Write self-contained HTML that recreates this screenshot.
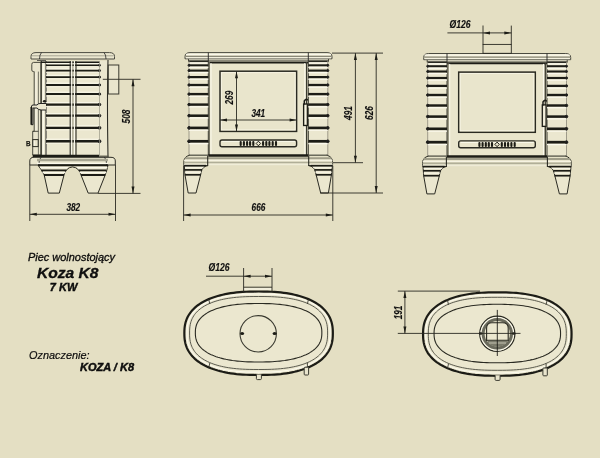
<!DOCTYPE html>
<html><head><meta charset="utf-8">
<style>
html,body{margin:0;padding:0;background:#e4dfc3;}
body{width:600px;height:458px;overflow:hidden;position:relative;}
svg{position:absolute;left:0;top:0;will-change:transform;}
.t{font-family:"Liberation Sans",sans-serif;font-style:italic;fill:#111;}
</style></head><body>
<svg width="600" height="458" viewBox="0 0 600 458">
<defs>

<g id="stove" fill="none" stroke="#222" stroke-width="1">
  <!-- cap -->
  <rect x="188.5" y="58" width="140" height="3.5" fill="#ece8d2" stroke="none"/>
  <line x1="188.5" y1="58.5" x2="188.5" y2="61.5" stroke="#3a3a30" stroke-width="0.9"/>
  <line x1="328.5" y1="58.5" x2="328.5" y2="61.5" stroke="#3a3a30" stroke-width="0.9"/>
  <path d="M185,58.8 L185,56.6 Q185,52.6 190,52.6 L327,52.6 Q332,52.6 332,56.6 L332,58.8 Z" fill="#ebe7cf" stroke="#4a4a40" stroke-width="1"/>
  <line x1="186" y1="54.3" x2="331" y2="54.3" stroke="#fbf9ec" stroke-width="1.2"/>
  <line x1="185.5" y1="56.3" x2="331.5" y2="56.3" stroke="#8a8878" stroke-width="1.2"/>
  <line x1="186" y1="57.8" x2="331" y2="57.8" stroke="#f8f6e6" stroke-width="0.9"/>
  <line x1="208.3" y1="52.6" x2="208.3" y2="61" stroke-width="0.9"/>
  <line x1="308.3" y1="52.6" x2="308.3" y2="61" stroke-width="0.9"/>
  <line x1="188.5" y1="61.3" x2="328.5" y2="61.3" stroke="#2a2a22" stroke-width="1.4"/>
  <!-- door -->
  <rect x="208.5" y="61" width="99.5" height="94.2" fill="#e9e5cc" stroke="none"/>
  <line x1="208.3" y1="62.4" x2="308.3" y2="62.4" stroke="#1c1c16" stroke-width="2"/>
  <line x1="209.3" y1="62" x2="209.3" y2="155" stroke="#6a6858" stroke-width="1.2"/>
  <line x1="211" y1="63" x2="211" y2="155" stroke="#fbf9ec" stroke-width="1"/>
  <line x1="304.8" y1="63" x2="304.8" y2="155" stroke="#fbf9ec" stroke-width="1"/>
  <line x1="306.6" y1="62" x2="306.6" y2="155" stroke="#3a3a30" stroke-width="1.3"/>
  <!-- window -->
  <rect x="220" y="71.2" width="76.6" height="60.2" stroke="#2a2a22" stroke-width="1.5"/>
  <rect x="221.5" y="72.7" width="73.6" height="57.2" stroke="#f8f6e6" stroke-width="0.8"/>
  <!-- vent -->
  <rect x="220" y="140" width="76.6" height="6.8" rx="2" stroke="#2a2a22" stroke-width="1.4"/>
  <line x1="222" y1="141.6" x2="295" y2="141.6" stroke="#fbf9ec" stroke-width="0.9"/>
  <g fill="#1c1c16" stroke="none">
    <rect x="239.65" y="141" width="2.1" height="5" rx="1" fill="#1c1c16"/><rect x="242.85" y="141" width="2.1" height="5" rx="1" fill="#1c1c16"/><rect x="246.05" y="141" width="2.1" height="5" rx="1" fill="#1c1c16"/><rect x="249.05" y="141" width="2.1" height="5" rx="1" fill="#1c1c16"/><rect x="252.25" y="141" width="2.1" height="5" rx="1" fill="#1c1c16"/><rect x="262.05" y="141" width="2.1" height="5" rx="1" fill="#1c1c16"/><rect x="265.25" y="141" width="2.1" height="5" rx="1" fill="#1c1c16"/><rect x="268.35" y="141" width="2.1" height="5" rx="1" fill="#1c1c16"/><rect x="271.65" y="141" width="2.1" height="5" rx="1" fill="#1c1c16"/><rect x="274.95" y="141" width="2.1" height="5" rx="1" fill="#1c1c16"/>
    <path d="M256.2,143.5 L258.4,141.2 L260.6,143.5 L258.4,145.8 Z" fill="none" stroke="#1c1c16" stroke-width="1"/>
  </g>
  <!-- handle -->
  <rect x="303.6" y="104" width="3.8" height="21.5" fill="#e9e5cd" stroke="#1c1c16" stroke-width="1.3"/>
  <line x1="305.5" y1="105" x2="305.5" y2="124" stroke="#fbf9ec" stroke-width="0.8"/>
  <path d="M304.3,104.5 L304.3,101 Q306.5,97.8 308.5,100.5 L310.3,103.8" stroke="#1c1c16" stroke-width="1.5"/>
  <!-- fins -->
  <rect x="189" y="61" width="19.30000000000001" height="94.2" fill="#ebe7cf" stroke="none"/>
<line x1="189" y1="61.4" x2="208.3" y2="61.4" stroke="#2a2a22" stroke-width="1.5"/>
<line x1="189" y1="63" x2="208.3" y2="63" stroke="#fbf9ec" stroke-width="1.2"/>
<line x1="208.3" y1="61" x2="208.3" y2="155" stroke="#3a3a30" stroke-width="1"/>
<line x1="189" y1="61" x2="189" y2="155" stroke="#8a8878" stroke-width="0.8"/>
<line x1="189" y1="67.30" x2="208.3" y2="67.30" stroke="#fbf9ec" stroke-width="1.3"/>
<line x1="189" y1="65.3" x2="208.3" y2="65.3" stroke="#1c1c16" stroke-width="2.00"/>
<ellipse cx="189" cy="65.3" rx="1.00" ry="1.00" fill="#1c1c16"/>
<line x1="189" y1="72.64" x2="208.3" y2="72.64" stroke="#fbf9ec" stroke-width="1.3"/>
<line x1="189" y1="70.6" x2="208.3" y2="70.6" stroke="#1c1c16" stroke-width="2.09"/>
<ellipse cx="189" cy="70.6" rx="1.04" ry="1.04" fill="#1c1c16"/>
<line x1="189" y1="79.19" x2="208.3" y2="79.19" stroke="#fbf9ec" stroke-width="1.3"/>
<line x1="189" y1="77.1" x2="208.3" y2="77.1" stroke="#1c1c16" stroke-width="2.18"/>
<ellipse cx="189" cy="77.1" rx="1.09" ry="1.09" fill="#1c1c16"/>
<line x1="189" y1="87.14" x2="208.3" y2="87.14" stroke="#fbf9ec" stroke-width="1.3"/>
<line x1="189" y1="85.0" x2="208.3" y2="85.0" stroke="#1c1c16" stroke-width="2.27"/>
<ellipse cx="189" cy="85.0" rx="1.14" ry="1.14" fill="#1c1c16"/>
<line x1="189" y1="96.28" x2="208.3" y2="96.28" stroke="#fbf9ec" stroke-width="1.3"/>
<line x1="189" y1="94.1" x2="208.3" y2="94.1" stroke="#1c1c16" stroke-width="2.36"/>
<ellipse cx="189" cy="94.1" rx="1.18" ry="1.18" fill="#1c1c16"/>
<line x1="189" y1="106.82" x2="208.3" y2="106.82" stroke="#fbf9ec" stroke-width="1.3"/>
<line x1="189" y1="104.6" x2="208.3" y2="104.6" stroke="#1c1c16" stroke-width="2.45"/>
<ellipse cx="189" cy="104.6" rx="1.23" ry="1.23" fill="#1c1c16"/>
<line x1="189" y1="117.97" x2="208.3" y2="117.97" stroke="#fbf9ec" stroke-width="1.3"/>
<line x1="189" y1="115.7" x2="208.3" y2="115.7" stroke="#1c1c16" stroke-width="2.54"/>
<ellipse cx="189" cy="115.7" rx="1.27" ry="1.27" fill="#1c1c16"/>
<line x1="189" y1="130.22" x2="208.3" y2="130.22" stroke="#fbf9ec" stroke-width="1.3"/>
<line x1="189" y1="127.9" x2="208.3" y2="127.9" stroke="#1c1c16" stroke-width="2.63"/>
<ellipse cx="189" cy="127.9" rx="1.31" ry="1.31" fill="#1c1c16"/>
<line x1="189" y1="143.66" x2="208.3" y2="143.66" stroke="#fbf9ec" stroke-width="1.3"/>
<line x1="189" y1="141.3" x2="208.3" y2="141.3" stroke="#1c1c16" stroke-width="2.72"/>
<ellipse cx="189" cy="141.3" rx="1.36" ry="1.36" fill="#1c1c16"/>
  <rect x="308.3" y="61" width="19.5" height="94.2" fill="#ebe7cf" stroke="none"/>
<line x1="308.3" y1="61.4" x2="327.8" y2="61.4" stroke="#2a2a22" stroke-width="1.5"/>
<line x1="308.3" y1="63" x2="327.8" y2="63" stroke="#fbf9ec" stroke-width="1.2"/>
<line x1="308.3" y1="61" x2="308.3" y2="155" stroke="#3a3a30" stroke-width="1"/>
<line x1="327.8" y1="61" x2="327.8" y2="155" stroke="#8a8878" stroke-width="0.8"/>
<line x1="308.3" y1="67.30" x2="327.8" y2="67.30" stroke="#fbf9ec" stroke-width="1.3"/>
<line x1="308.3" y1="65.3" x2="327.8" y2="65.3" stroke="#1c1c16" stroke-width="2.00"/>
<ellipse cx="327.8" cy="65.3" rx="1.00" ry="1.00" fill="#1c1c16"/>
<line x1="308.3" y1="72.64" x2="327.8" y2="72.64" stroke="#fbf9ec" stroke-width="1.3"/>
<line x1="308.3" y1="70.6" x2="327.8" y2="70.6" stroke="#1c1c16" stroke-width="2.09"/>
<ellipse cx="327.8" cy="70.6" rx="1.04" ry="1.04" fill="#1c1c16"/>
<line x1="308.3" y1="79.19" x2="327.8" y2="79.19" stroke="#fbf9ec" stroke-width="1.3"/>
<line x1="308.3" y1="77.1" x2="327.8" y2="77.1" stroke="#1c1c16" stroke-width="2.18"/>
<ellipse cx="327.8" cy="77.1" rx="1.09" ry="1.09" fill="#1c1c16"/>
<line x1="308.3" y1="87.14" x2="327.8" y2="87.14" stroke="#fbf9ec" stroke-width="1.3"/>
<line x1="308.3" y1="85.0" x2="327.8" y2="85.0" stroke="#1c1c16" stroke-width="2.27"/>
<ellipse cx="327.8" cy="85.0" rx="1.14" ry="1.14" fill="#1c1c16"/>
<line x1="308.3" y1="96.28" x2="327.8" y2="96.28" stroke="#fbf9ec" stroke-width="1.3"/>
<line x1="308.3" y1="94.1" x2="327.8" y2="94.1" stroke="#1c1c16" stroke-width="2.36"/>
<ellipse cx="327.8" cy="94.1" rx="1.18" ry="1.18" fill="#1c1c16"/>
<line x1="308.3" y1="106.82" x2="327.8" y2="106.82" stroke="#fbf9ec" stroke-width="1.3"/>
<line x1="308.3" y1="104.6" x2="327.8" y2="104.6" stroke="#1c1c16" stroke-width="2.45"/>
<ellipse cx="327.8" cy="104.6" rx="1.23" ry="1.23" fill="#1c1c16"/>
<line x1="308.3" y1="117.97" x2="327.8" y2="117.97" stroke="#fbf9ec" stroke-width="1.3"/>
<line x1="308.3" y1="115.7" x2="327.8" y2="115.7" stroke="#1c1c16" stroke-width="2.54"/>
<ellipse cx="327.8" cy="115.7" rx="1.27" ry="1.27" fill="#1c1c16"/>
<line x1="308.3" y1="130.22" x2="327.8" y2="130.22" stroke="#fbf9ec" stroke-width="1.3"/>
<line x1="308.3" y1="127.9" x2="327.8" y2="127.9" stroke="#1c1c16" stroke-width="2.63"/>
<ellipse cx="327.8" cy="127.9" rx="1.31" ry="1.31" fill="#1c1c16"/>
<line x1="308.3" y1="143.66" x2="327.8" y2="143.66" stroke="#fbf9ec" stroke-width="1.3"/>
<line x1="308.3" y1="141.3" x2="327.8" y2="141.3" stroke="#1c1c16" stroke-width="2.72"/>
<ellipse cx="327.8" cy="141.3" rx="1.36" ry="1.36" fill="#1c1c16"/>
  <!-- plinth -->
  <clipPath id="plc"><path d="M189.8,155.2 Q184,156.5 183.8,162 L183.8,165.8 L332.6,165.8 L332.6,162 Q332.4,156.5 326.6,155.2 Z"/></clipPath>
  <path d="M189.8,155.2 Q184,156.5 183.8,162 L183.8,165.8 L332.6,165.8 L332.6,162 Q332.4,156.5 326.6,155.2 Z" fill="#e6e2c8" stroke="none"/>
  <path d="M189.8,155.2 Q184,156.5 183.8,162 L183.8,165.8 M332.6,165.8 L332.6,162 Q332.4,156.5 326.6,155.2" fill="none" stroke="#2a2a22" stroke-width="1"/>
  <g clip-path="url(#plc)">
    <line x1="180" y1="158.2" x2="336" y2="158.2" stroke="#a09e8a" stroke-width="2"/>
    <line x1="180" y1="160.5" x2="336" y2="160.5" stroke="#f6f3e2" stroke-width="1.3"/>
    <line x1="180" y1="162.5" x2="336" y2="162.5" stroke="#b0ae98" stroke-width="1.6"/>
    <line x1="180" y1="164.3" x2="336" y2="164.3" stroke="#f3f0de" stroke-width="1"/>
  </g>
  <line x1="207.7" y1="155.5" x2="207.7" y2="166" stroke="#2a2a22" stroke-width="1.1"/>
  <line x1="189" y1="155.2" x2="208.3" y2="155.2" stroke="#55554a" stroke-width="1.3"/>
  <line x1="308.3" y1="155.2" x2="328" y2="155.2" stroke="#55554a" stroke-width="1.3"/>
  <line x1="208.3" y1="155.5" x2="308.3" y2="155.5" stroke="#1c1c16" stroke-width="2.5"/>
  <line x1="308.7" y1="155.5" x2="308.7" y2="166" stroke="#2a2a22" stroke-width="1.1"/>
  <!-- legs -->
  <path d="M184.3,165.6 L207.9,165.6 C204.5,165.8 201.8,168.5 201.2,172 L200.6,175 L196,193 L188.2,193 L185,175 Z" fill="#ebe7cf" stroke="#2a2a22"/>
  <path d="M332.3,165.6 L308.7,165.6 C312.1,165.8 314.8,168.5 315.4,172 L316.2,175 L320.7,193 L328.4,193 L331.4,175 Z" fill="#ebe7cf" stroke="#2a2a22"/>
  <g stroke="#1c1c16" stroke-width="1.7">
    <line x1="184.3" y1="165.7" x2="206" y2="165.7"/>
    <line x1="184.5" y1="169.9" x2="202" y2="169.9"/>
    <line x1="184.8" y1="174.8" x2="200.8" y2="174.8"/>
    <line x1="310.6" y1="165.7" x2="332.3" y2="165.7"/>
    <line x1="314.6" y1="169.9" x2="332.1" y2="169.9"/>
    <line x1="315.8" y1="174.8" x2="331.6" y2="174.8"/>
  </g>
  <g stroke="#f8f6e8" stroke-width="1">
    <line x1="185" y1="167.7" x2="203.5" y2="167.7"/>
    <line x1="185" y1="172.3" x2="201.2" y2="172.3"/>
    <line x1="313" y1="167.7" x2="331.6" y2="167.7"/>
    <line x1="315.4" y1="172.3" x2="331.6" y2="172.3"/>
  </g>
</g>


<g id="oval" fill="none">
  <path d="M332.85,333.25 L332.80,336.06 L332.66,338.26 L332.42,340.26 L332.09,342.15 L331.66,343.95 L331.14,345.67 L330.52,347.33 L329.81,348.94 L329.01,350.50 L328.11,352.00 L327.12,353.46 L326.04,354.87 L324.87,356.24 L323.61,357.56 L322.27,358.83 L320.83,360.06 L319.31,361.25 L317.70,362.39 L316.00,363.48 L314.22,364.53 L312.36,365.53 L310.42,366.48 L308.39,367.38 L306.28,368.24 L304.10,369.05 L301.83,369.81 L299.48,370.51 L297.05,371.17 L294.54,371.78 L291.95,372.33 L289.27,372.84 L286.50,373.29 L283.65,373.69 L280.69,374.04 L277.62,374.33 L274.42,374.57 L271.07,374.76 L267.50,374.89 L263.60,374.97 L258.60,375.00 L253.60,374.97 L249.70,374.89 L246.13,374.76 L242.78,374.57 L239.58,374.33 L236.51,374.04 L233.55,373.69 L230.70,373.29 L227.93,372.84 L225.25,372.33 L222.66,371.78 L220.15,371.17 L217.72,370.51 L215.37,369.81 L213.10,369.05 L210.92,368.24 L208.81,367.38 L206.78,366.48 L204.84,365.53 L202.98,364.53 L201.20,363.48 L199.50,362.39 L197.89,361.25 L196.37,360.06 L194.93,358.83 L193.59,357.56 L192.33,356.24 L191.16,354.87 L190.08,353.46 L189.09,352.00 L188.19,350.50 L187.39,348.94 L186.68,347.33 L186.06,345.67 L185.54,343.95 L185.11,342.15 L184.78,340.26 L184.54,338.26 L184.40,336.06 L184.35,333.25 L184.40,330.44 L184.54,328.24 L184.78,326.24 L185.11,324.35 L185.54,322.55 L186.06,320.83 L186.68,319.17 L187.39,317.56 L188.19,316.00 L189.09,314.50 L190.08,313.04 L191.16,311.63 L192.33,310.26 L193.59,308.94 L194.93,307.67 L196.37,306.44 L197.89,305.25 L199.50,304.11 L201.20,303.02 L202.98,301.97 L204.84,300.97 L206.78,300.02 L208.81,299.12 L210.92,298.26 L213.10,297.45 L215.37,296.69 L217.72,295.99 L220.15,295.33 L222.66,294.72 L225.25,294.17 L227.93,293.66 L230.70,293.21 L233.55,292.81 L236.51,292.46 L239.58,292.17 L242.78,291.93 L246.13,291.74 L249.70,291.61 L253.60,291.53 L258.60,291.50 L263.60,291.53 L267.50,291.61 L271.07,291.74 L274.42,291.93 L277.62,292.17 L280.69,292.46 L283.65,292.81 L286.50,293.21 L289.27,293.66 L291.95,294.17 L294.54,294.72 L297.05,295.33 L299.48,295.99 L301.83,296.69 L304.10,297.45 L306.28,298.26 L308.39,299.12 L310.42,300.02 L312.36,300.97 L314.22,301.97 L316.00,303.02 L317.70,304.11 L319.31,305.25 L320.83,306.44 L322.27,307.67 L323.61,308.94 L324.87,310.26 L326.04,311.63 L327.12,313.04 L328.11,314.50 L329.01,316.00 L329.81,317.56 L330.52,319.17 L331.14,320.83 L331.66,322.55 L332.09,324.35 L332.42,326.24 L332.66,328.24 L332.80,330.44 Z" fill="#ebe7cf" stroke="#1c1c16" stroke-width="2.2"/>
  <path d="M330.20,333.10 L330.15,335.88 L330.02,338.00 L329.79,339.91 L329.48,341.70 L329.07,343.40 L328.58,345.02 L328.00,346.59 L327.33,348.09 L326.57,349.54 L325.72,350.95 L324.78,352.31 L323.76,353.62 L322.66,354.89 L321.46,356.12 L320.19,357.30 L318.82,358.44 L317.38,359.54 L315.85,360.59 L314.25,361.60 L312.56,362.57 L310.79,363.49 L308.94,364.37 L307.01,365.20 L305.00,365.99 L302.91,366.73 L300.75,367.43 L298.50,368.08 L296.18,368.68 L293.77,369.24 L291.29,369.75 L288.71,370.22 L286.05,370.63 L283.29,371.00 L280.43,371.32 L277.46,371.59 L274.35,371.81 L271.07,371.98 L267.57,372.10 L263.69,372.18 L258.60,372.20 L253.51,372.18 L249.63,372.10 L246.13,371.98 L242.85,371.81 L239.74,371.59 L236.77,371.32 L233.91,371.00 L231.15,370.63 L228.49,370.22 L225.91,369.75 L223.43,369.24 L221.02,368.68 L218.70,368.08 L216.45,367.43 L214.29,366.73 L212.20,365.99 L210.19,365.20 L208.26,364.37 L206.41,363.49 L204.64,362.57 L202.95,361.60 L201.35,360.59 L199.82,359.54 L198.38,358.44 L197.01,357.30 L195.74,356.12 L194.54,354.89 L193.44,353.62 L192.42,352.31 L191.48,350.95 L190.63,349.54 L189.87,348.09 L189.20,346.59 L188.62,345.02 L188.13,343.40 L187.72,341.70 L187.41,339.91 L187.18,338.00 L187.05,335.88 L187.00,333.10 L187.05,330.32 L187.18,328.20 L187.41,326.29 L187.72,324.50 L188.13,322.80 L188.62,321.18 L189.20,319.61 L189.87,318.11 L190.63,316.66 L191.48,315.25 L192.42,313.89 L193.44,312.58 L194.54,311.31 L195.74,310.08 L197.01,308.90 L198.38,307.76 L199.82,306.66 L201.35,305.61 L202.95,304.60 L204.64,303.63 L206.41,302.71 L208.26,301.83 L210.19,301.00 L212.20,300.21 L214.29,299.47 L216.45,298.77 L218.70,298.12 L221.02,297.52 L223.43,296.96 L225.91,296.45 L228.49,295.98 L231.15,295.57 L233.91,295.20 L236.77,294.88 L239.74,294.61 L242.85,294.39 L246.13,294.22 L249.63,294.10 L253.51,294.02 L258.60,294.00 L263.69,294.02 L267.57,294.10 L271.07,294.22 L274.35,294.39 L277.46,294.61 L280.43,294.88 L283.29,295.20 L286.05,295.57 L288.71,295.98 L291.29,296.45 L293.77,296.96 L296.18,297.52 L298.50,298.12 L300.75,298.77 L302.91,299.47 L305.00,300.21 L307.01,301.00 L308.94,301.83 L310.79,302.71 L312.56,303.63 L314.25,304.60 L315.85,305.61 L317.38,306.66 L318.82,307.76 L320.19,308.90 L321.46,310.08 L322.66,311.31 L323.76,312.58 L324.78,313.89 L325.72,315.25 L326.57,316.66 L327.33,318.11 L328.00,319.61 L328.58,321.18 L329.07,322.80 L329.48,324.50 L329.79,326.29 L330.02,328.20 L330.15,330.32 Z" stroke="#fbf9ec" stroke-width="1.2"/>
  <path d="M327.60,333.00 L327.56,335.88 L327.43,337.96 L327.22,339.81 L326.93,341.52 L326.56,343.13 L326.10,344.66 L325.56,346.13 L324.94,347.53 L324.23,348.88 L323.45,350.18 L322.58,351.44 L321.63,352.65 L320.60,353.81 L319.49,354.94 L318.30,356.02 L317.03,357.06 L315.69,358.06 L314.26,359.02 L312.76,359.94 L311.18,360.81 L309.52,361.65 L307.78,362.44 L305.97,363.20 L304.08,363.91 L302.12,364.58 L300.07,365.21 L297.95,365.80 L295.74,366.34 L293.46,366.84 L291.08,367.30 L288.62,367.72 L286.07,368.09 L283.41,368.42 L280.64,368.71 L277.75,368.95 L274.70,369.15 L271.47,369.30 L267.97,369.41 L264.05,369.48 L258.60,369.50 L253.15,369.48 L249.23,369.41 L245.73,369.30 L242.50,369.15 L239.45,368.95 L236.56,368.71 L233.79,368.42 L231.13,368.09 L228.58,367.72 L226.12,367.30 L223.74,366.84 L221.46,366.34 L219.25,365.80 L217.13,365.21 L215.08,364.58 L213.12,363.91 L211.23,363.20 L209.42,362.44 L207.68,361.65 L206.02,360.81 L204.44,359.94 L202.94,359.02 L201.51,358.06 L200.17,357.06 L198.90,356.02 L197.71,354.94 L196.60,353.81 L195.57,352.65 L194.62,351.44 L193.75,350.18 L192.97,348.88 L192.26,347.53 L191.64,346.13 L191.10,344.66 L190.64,343.13 L190.27,341.52 L189.98,339.81 L189.77,337.96 L189.64,335.88 L189.60,333.00 L189.64,330.12 L189.77,328.04 L189.98,326.19 L190.27,324.48 L190.64,322.87 L191.10,321.34 L191.64,319.87 L192.26,318.47 L192.97,317.12 L193.75,315.82 L194.62,314.56 L195.57,313.35 L196.60,312.19 L197.71,311.06 L198.90,309.98 L200.17,308.94 L201.51,307.94 L202.94,306.98 L204.44,306.06 L206.02,305.19 L207.68,304.35 L209.42,303.56 L211.23,302.80 L213.12,302.09 L215.08,301.42 L217.13,300.79 L219.25,300.20 L221.46,299.66 L223.74,299.16 L226.12,298.70 L228.58,298.28 L231.13,297.91 L233.79,297.58 L236.56,297.29 L239.45,297.05 L242.50,296.85 L245.73,296.70 L249.23,296.59 L253.15,296.52 L258.60,296.50 L264.05,296.52 L267.97,296.59 L271.47,296.70 L274.70,296.85 L277.75,297.05 L280.64,297.29 L283.41,297.58 L286.07,297.91 L288.62,298.28 L291.08,298.70 L293.46,299.16 L295.74,299.66 L297.95,300.20 L300.07,300.79 L302.12,301.42 L304.08,302.09 L305.97,302.80 L307.78,303.56 L309.52,304.35 L311.18,305.19 L312.76,306.06 L314.26,306.98 L315.69,307.94 L317.03,308.94 L318.30,309.98 L319.49,311.06 L320.60,312.19 L321.63,313.35 L322.58,314.56 L323.45,315.82 L324.23,317.12 L324.94,318.47 L325.56,319.87 L326.10,321.34 L326.56,322.87 L326.93,324.48 L327.22,326.19 L327.43,328.04 L327.56,330.12 Z" stroke="#4a4a40" stroke-width="0.9"/>
  <path d="M321.85,332.75 L321.81,334.72 L321.69,336.26 L321.48,337.66 L321.20,338.98 L320.84,340.24 L320.39,341.45 L319.86,342.62 L319.26,343.74 L318.57,344.83 L317.81,345.89 L316.97,346.91 L316.05,347.90 L315.05,348.85 L313.98,349.78 L312.83,350.67 L311.61,351.53 L310.31,352.37 L308.94,353.16 L307.50,353.93 L305.98,354.66 L304.40,355.36 L302.74,356.03 L301.02,356.66 L299.22,357.26 L297.36,357.83 L295.42,358.36 L293.42,358.86 L291.35,359.32 L289.22,359.74 L287.01,360.13 L284.73,360.49 L282.37,360.80 L279.94,361.08 L277.42,361.32 L274.80,361.53 L272.08,361.70 L269.22,361.83 L266.18,361.92 L262.86,361.98 L258.60,362.00 L254.34,361.98 L251.02,361.92 L247.98,361.83 L245.12,361.70 L242.40,361.53 L239.78,361.32 L237.26,361.08 L234.83,360.80 L232.47,360.49 L230.19,360.13 L227.98,359.74 L225.85,359.32 L223.78,358.86 L221.78,358.36 L219.84,357.83 L217.98,357.26 L216.18,356.66 L214.46,356.03 L212.80,355.36 L211.22,354.66 L209.70,353.93 L208.26,353.16 L206.89,352.37 L205.59,351.53 L204.37,350.67 L203.22,349.78 L202.15,348.85 L201.15,347.90 L200.23,346.91 L199.39,345.89 L198.63,344.83 L197.94,343.74 L197.34,342.62 L196.81,341.45 L196.36,340.24 L196.00,338.98 L195.72,337.66 L195.51,336.26 L195.39,334.72 L195.35,332.75 L195.39,330.78 L195.51,329.24 L195.72,327.84 L196.00,326.52 L196.36,325.26 L196.81,324.05 L197.34,322.88 L197.94,321.76 L198.63,320.67 L199.39,319.61 L200.23,318.59 L201.15,317.60 L202.15,316.65 L203.22,315.72 L204.37,314.83 L205.59,313.97 L206.89,313.13 L208.26,312.34 L209.70,311.57 L211.22,310.84 L212.80,310.14 L214.46,309.47 L216.18,308.84 L217.98,308.24 L219.84,307.67 L221.78,307.14 L223.78,306.64 L225.85,306.18 L227.98,305.76 L230.19,305.37 L232.47,305.01 L234.83,304.70 L237.26,304.42 L239.78,304.18 L242.40,303.97 L245.12,303.80 L247.98,303.67 L251.02,303.58 L254.34,303.52 L258.60,303.50 L262.86,303.52 L266.18,303.58 L269.22,303.67 L272.08,303.80 L274.80,303.97 L277.42,304.18 L279.94,304.42 L282.37,304.70 L284.73,305.01 L287.01,305.37 L289.22,305.76 L291.35,306.18 L293.42,306.64 L295.42,307.14 L297.36,307.67 L299.22,308.24 L301.02,308.84 L302.74,309.47 L304.40,310.14 L305.98,310.84 L307.50,311.57 L308.94,312.34 L310.31,313.13 L311.61,313.97 L312.83,314.83 L313.98,315.72 L315.05,316.65 L316.05,317.60 L316.97,318.59 L317.81,319.61 L318.57,320.67 L319.26,321.76 L319.86,322.88 L320.39,324.05 L320.84,325.26 L321.20,326.52 L321.48,327.84 L321.69,329.24 L321.81,330.78 Z" stroke="#2a2a22" stroke-width="1.1"/>
  <g stroke="#3a3a30" stroke-width="0.9">
    <line x1="208.8" y1="299.5" x2="209.8" y2="304"/>
    <line x1="308.4" y1="299.5" x2="307.4" y2="304"/>
    <line x1="208.8" y1="367.5" x2="209.8" y2="363"/>
    <line x1="307.4" y1="362.6" x2="307.4" y2="367.2"/>
  </g>
  <path d="M256.4,374.5 L256.4,378.6 Q256.4,379.6 257.4,379.6 L260.4,379.6 Q261.4,379.6 261.4,378.6 L261.4,374.5" stroke="#3a3a30" stroke-width="1" fill="#e9e5cd"/>
  <rect x="304.2" y="367.2" width="4.4" height="7.8" rx="0.8" stroke="#3a3a30" stroke-width="1" fill="#e9e5cd"/>
</g>

</defs>
<rect width="600" height="458" fill="#e4dfc3"/>
<use href="#stove"/>
<use href="#stove" transform="translate(238.7,0.9)"/>

<rect x="483" y="44.4" width="28.3" height="8.9" fill="none" stroke="#2a2a22" stroke-width="0.9"/>


<g id="side" fill="none" stroke="#222" stroke-width="1">
  <!-- cap -->
  <path d="M31,59 L31,56.5 Q31,52.6 36,52.6 L109.5,52.6 Q114.5,52.6 114.5,56.5 L114.5,59 Z" fill="#ebe7cf" stroke="#4a4a40" stroke-width="1"/>
  <line x1="32" y1="55.8" x2="113.5" y2="55.8" stroke="#8a8878" stroke-width="0.7"/>
  <path d="M41.5,52.6 Q39.5,54.5 39.5,59" stroke-width="0.8"/>
  <path d="M104,52.6 Q106,54.5 106,59" stroke-width="0.8"/>
  <line x1="37" y1="60.5" x2="46" y2="60.5" stroke-width="0.7"/>
  <!-- body -->
  <rect x="41" y="61" width="67.5" height="94.5" fill="#ebe7cf" stroke="none"/>
  <!-- door left block -->
  <path d="M41,62.4 L33.5,62.4 Q31.8,62.4 31.8,64.5 L31.8,70 Q31.8,71.6 33.5,71.6 L34.2,71.6 L34.2,131.3 L32.7,131.3 L32.7,155 L41,155 Z" fill="#e9e5cd" stroke="#3a3a30" stroke-width="0.9"/>
  <line x1="32.7" y1="131.3" x2="38.6" y2="131.3" stroke="#3a3a30" stroke-width="0.9"/>
  <line x1="38.4" y1="71.6" x2="38.4" y2="155" stroke-width="0.8" stroke="#55554a"/>
  <line x1="36" y1="72.5" x2="36" y2="130.5" stroke-width="0.8" stroke="#fbf9ec"/>
  <line x1="41.2" y1="61" x2="41.2" y2="155.5" stroke="#3a3a30" stroke-width="1.3"/>
  <line x1="43.3" y1="62" x2="43.3" y2="155" stroke="#fbf9ec" stroke-width="1.2"/>
  <line x1="46" y1="61" x2="46" y2="155.5" stroke-width="1"/>
  <!-- fins -->
  <line x1="41" y1="62.2" x2="99.5" y2="62.2" stroke="#1c1c16" stroke-width="1.4"/>
  <line x1="46" y1="63.60" x2="99.5" y2="63.60" stroke="#fbf9ec" stroke-width="1"/>
<line x1="46" y1="67.00" x2="99.5" y2="67.00" stroke="#f6f3e2" stroke-width="0.9"/>
<line x1="46" y1="65.3" x2="99.5" y2="65.3" stroke="#1c1c16" stroke-width="1.60"/>
<ellipse cx="99.5" cy="65.3" rx="0.96" ry="0.96" fill="#1c1c16"/>
<line x1="46" y1="68.85" x2="99.5" y2="68.85" stroke="#fbf9ec" stroke-width="1"/>
<line x1="46" y1="72.35" x2="99.5" y2="72.35" stroke="#f6f3e2" stroke-width="0.9"/>
<line x1="46" y1="70.6" x2="99.5" y2="70.6" stroke="#1c1c16" stroke-width="1.70"/>
<ellipse cx="99.5" cy="70.6" rx="1.02" ry="1.02" fill="#1c1c16"/>
<line x1="46" y1="75.30" x2="99.5" y2="75.30" stroke="#fbf9ec" stroke-width="1"/>
<line x1="46" y1="78.90" x2="99.5" y2="78.90" stroke="#f6f3e2" stroke-width="0.9"/>
<line x1="46" y1="77.1" x2="99.5" y2="77.1" stroke="#1c1c16" stroke-width="1.80"/>
<ellipse cx="99.5" cy="77.1" rx="1.08" ry="1.08" fill="#1c1c16"/>
<line x1="46" y1="83.15" x2="99.5" y2="83.15" stroke="#fbf9ec" stroke-width="1"/>
<line x1="46" y1="86.85" x2="99.5" y2="86.85" stroke="#f6f3e2" stroke-width="0.9"/>
<line x1="46" y1="85.0" x2="99.5" y2="85.0" stroke="#1c1c16" stroke-width="1.90"/>
<ellipse cx="99.5" cy="85.0" rx="1.14" ry="1.14" fill="#1c1c16"/>
<line x1="46" y1="92.20" x2="99.5" y2="92.20" stroke="#fbf9ec" stroke-width="1"/>
<line x1="46" y1="96.00" x2="99.5" y2="96.00" stroke="#f6f3e2" stroke-width="0.9"/>
<line x1="46" y1="94.1" x2="99.5" y2="94.1" stroke="#1c1c16" stroke-width="2.00"/>
<ellipse cx="99.5" cy="94.1" rx="1.20" ry="1.20" fill="#1c1c16"/>
<line x1="46" y1="102.65" x2="99.5" y2="102.65" stroke="#fbf9ec" stroke-width="1"/>
<line x1="46" y1="106.55" x2="99.5" y2="106.55" stroke="#f6f3e2" stroke-width="0.9"/>
<line x1="46" y1="104.6" x2="99.5" y2="104.6" stroke="#1c1c16" stroke-width="2.10"/>
<ellipse cx="99.5" cy="104.6" rx="1.26" ry="1.26" fill="#1c1c16"/>
<line x1="46" y1="113.70" x2="99.5" y2="113.70" stroke="#fbf9ec" stroke-width="1"/>
<line x1="46" y1="117.70" x2="99.5" y2="117.70" stroke="#f6f3e2" stroke-width="0.9"/>
<line x1="46" y1="115.7" x2="99.5" y2="115.7" stroke="#1c1c16" stroke-width="2.20"/>
<ellipse cx="99.5" cy="115.7" rx="1.32" ry="1.32" fill="#1c1c16"/>
<line x1="46" y1="125.85" x2="99.5" y2="125.85" stroke="#fbf9ec" stroke-width="1"/>
<line x1="46" y1="129.95" x2="99.5" y2="129.95" stroke="#f6f3e2" stroke-width="0.9"/>
<line x1="46" y1="127.9" x2="99.5" y2="127.9" stroke="#1c1c16" stroke-width="2.30"/>
<ellipse cx="99.5" cy="127.9" rx="1.38" ry="1.38" fill="#1c1c16"/>
<line x1="46" y1="139.20" x2="99.5" y2="139.20" stroke="#fbf9ec" stroke-width="1"/>
<line x1="46" y1="143.40" x2="99.5" y2="143.40" stroke="#f6f3e2" stroke-width="0.9"/>
<line x1="46" y1="141.3" x2="99.5" y2="141.3" stroke="#1c1c16" stroke-width="2.40"/>
<ellipse cx="99.5" cy="141.3" rx="1.44" ry="1.44" fill="#1c1c16"/>
  <line x1="70.2" y1="61" x2="70.2" y2="155" stroke="#2a2a22" stroke-width="1.1"/>
  <line x1="71.6" y1="61" x2="71.6" y2="155" stroke="#fbf9ec" stroke-width="1"/>
  <line x1="72.9" y1="61" x2="72.9" y2="155" stroke="#8a8878" stroke-width="0.9"/>
  <line x1="74.5" y1="61" x2="74.5" y2="155" stroke="#fbf9ec" stroke-width="1"/>
  <line x1="76" y1="61" x2="76" y2="155" stroke="#2a2a22" stroke-width="1.1"/>
  <line x1="99.5" y1="61" x2="99.5" y2="155" stroke-width="0.7" stroke="#9a9886"/>
  <path d="M108,60 Q107,100 108,157" stroke-width="1.1" stroke="#2a2a22"/>
  <!-- handle -->
  <path d="M46,103.5 L40,103.5 Q38,103.5 37,105 L33,105 Q31.4,105 31.4,107 L31.4,124.7 L33,124.7 L33,108 L37,108 Q38.5,110 41,110 L46,110" fill="#ebe7cf" stroke-width="1"/>
  <path d="M31.4,107 L31.4,124.7" stroke="#1c1c16" stroke-width="1.8"/>
  <!-- latch -->
  <text x="26" y="145.7" font-family="Liberation Sans" font-size="6.3" font-weight="bold" fill="#1c1c16" stroke="#1c1c16" stroke-width="0.25">B</text>
  <rect x="32.8" y="139.6" width="5.4" height="7" fill="#e9e5cd" stroke="#2a2a22" stroke-width="1"/>
  <line x1="34.3" y1="140.5" x2="34.3" y2="145.8" stroke="#fbf9ec" stroke-width="0.8"/>
  <ellipse cx="44.5" cy="101.3" rx="1.6" ry="1.3" fill="#1c1c16" stroke="none"/>
  <!-- flue box -->
  <rect x="108.3" y="65" width="10.5" height="29" fill="#e9e5cd" stroke="#3a3a30" stroke-width="1"/>
  <!-- body bottom -->
  <line x1="32.7" y1="155.8" x2="99.2" y2="155.8" stroke="#1c1c16" stroke-width="2.2"/>
  <line x1="99.2" y1="156.2" x2="108.3" y2="156.2" stroke="#55554a" stroke-width="1.2"/>
  <!-- plinth -->
  <path d="M29.8,165 L29.8,161 Q29.8,157.3 34,157.3 L111,157.3 Q115.3,157.3 115.3,161 L115.3,165 Z" fill="#ebe7cf" stroke="#2a2a22"/>
  <path d="M41,157.3 Q38.5,160 39,165" stroke-width="0.9"/>
  <path d="M104.5,157.3 Q107,160 106.5,165" stroke-width="0.9"/>
  <!-- legs -->
  <path d="M38,165 L108,165 Q107.5,169 105.2,175 L98,193.1 L88.2,193.1 L81,175 Q79,167.5 72.5,166.9 Q66,167.5 64,175 L59.3,193.1 L48.2,193.1 L44.2,175 Q41,169 38,165 Z" fill="#ebe7cf" stroke="#2a2a22"/>
  <line x1="37" y1="160" x2="108" y2="160" stroke="#a8a692" stroke-width="2.5"/>
  <line x1="37" y1="163.3" x2="108" y2="163.3" stroke="#fbf9ec" stroke-width="1.2"/>
  <g stroke="#1c1c16" stroke-width="1.9">
    <line x1="38" y1="165.4" x2="108" y2="165.4"/>
    <path d="M41.5,170.4 L66.3,170.4 M78.8,170.4 L106.4,170.4"/>
    <path d="M44,175 L64,175 M81,175 L105.2,175"/>
  </g>
  <g stroke="#fbf9ec" stroke-width="1.3">
    <path d="M40,167.7 L68,167.7 M77,167.7 L107.4,167.7"/>
    <path d="M42.5,172.6 L65.5,172.6 M79.5,172.6 L106.2,172.6"/>
  </g>
</g>

<use href="#oval"/>

<circle cx="258.2" cy="333.8" r="18.2" fill="none" stroke="#3a3a30" stroke-width="1.1"/>
<ellipse cx="242.1" cy="333.5" rx="2" ry="1.5" fill="#1c1c16"/>
<ellipse cx="274.6" cy="333.5" rx="2" ry="1.5" fill="#1c1c16"/>


<line x1="243.6" y1="287.2" x2="272" y2="287.2" stroke="#3a3a30" stroke-width="1"/>
<line x1="244.2" y1="289" x2="271.5" y2="289" stroke="#fbf9ec" stroke-width="1.2"/>

<use href="#oval" transform="translate(238.7,0.8)"/>

<circle cx="497.3" cy="333.8" r="17.6" fill="none" stroke="#2a2a22" stroke-width="1.2"/>
<circle cx="497.3" cy="333.8" r="16.3" fill="none" stroke="#fbf9ec" stroke-width="1.1"/>
<circle cx="497.3" cy="333.8" r="14.2" fill="none" stroke="#6a6a5c" stroke-width="3"/>
<path d="M486.6,340.4 L486.6,328 Q486.6,322.7 492,322.7 L502.6,322.7 Q508.2,322.7 508.2,328 L508.2,340.4 Z" fill="#ebe7cf" stroke="#2a2a22" stroke-width="1.1"/>
<path d="M487,340.6 L508,340.6 Q506,346.5 497.3,346.8 Q489,346.5 487,340.6 Z" fill="#7a7a6a" stroke="none"/>
<line x1="489" y1="343" x2="506" y2="343" stroke="#d8d6c4" stroke-width="0.8"/>
<line x1="497.3" y1="309.9" x2="497.3" y2="356" stroke="#1c1c16" stroke-width="0.9"/>
<ellipse cx="480.6" cy="333.5" rx="1.8" ry="1.3" fill="#1c1c16"/>
<ellipse cx="513.8" cy="333.5" rx="1.8" ry="1.3" fill="#1c1c16"/>


<g fill="none" stroke="#2a2a22" stroke-width="0.9">
  <line x1="29.8" y1="165" x2="29.8" y2="221"/>
  <line x1="115.5" y1="165" x2="115.5" y2="221"/>
  <line x1="29.8" y1="214.3" x2="115.5" y2="214.3"/>
  <line x1="102.8" y1="79.3" x2="140.5" y2="79.3"/>
  <line x1="98" y1="193.4" x2="140.5" y2="193.4"/>
  <line x1="133" y1="79.3" x2="133" y2="193.4"/>
  <line x1="236.5" y1="71.2" x2="236.5" y2="131.4"/>
  <line x1="220" y1="120" x2="296.6" y2="120"/>
  <line x1="183.6" y1="166" x2="183.6" y2="221"/>
  <line x1="332.8" y1="166" x2="332.8" y2="221"/>
  <line x1="183.6" y1="215" x2="332.8" y2="215"/>
  <line x1="332" y1="53.1" x2="383" y2="53.1"/>
  <line x1="333" y1="162.7" x2="363" y2="162.7"/>
  <line x1="320" y1="193" x2="383" y2="193"/>
  <line x1="355.4" y1="53.1" x2="355.4" y2="162.7"/>
  <line x1="376.2" y1="53.1" x2="376.2" y2="193"/>
  <!-- flue right -->
  <line x1="483" y1="25.5" x2="483" y2="44.6"/>
  <line x1="511.3" y1="25.6" x2="511.3" y2="44.6"/>
  <line x1="447.4" y1="32.9" x2="511.3" y2="32.9"/>
  <!-- flue bottom-mid -->
  <line x1="243.6" y1="268" x2="243.6" y2="292"/>
  <line x1="272" y1="268" x2="272" y2="292"/>
  <line x1="206" y1="276.2" x2="272" y2="276.2"/>
  <!-- 191 -->
  <line x1="397.8" y1="291.1" x2="480" y2="291.1"/>
  <line x1="397.8" y1="333.4" x2="520.5" y2="333.4"/>
  <line x1="404.9" y1="291.1" x2="404.9" y2="333.4"/>
</g>
<g fill="#1c1c16" stroke="none">
  <path d="M29.8,214.3 l7,-1.5 l0,3 z"/><path d="M115.5,214.3 l-7,-1.5 l0,3 z"/>
  <path d="M133,79.3 l-1.5,7 l3,0 z"/><path d="M133,193.4 l-1.5,-7 l3,0 z"/>
  <path d="M236.5,71.2 l-1.5,7 l3,0 z"/><path d="M236.5,131.4 l-1.5,-7 l3,0 z"/>
  <path d="M220,120 l7,-1.5 l0,3 z"/><path d="M296.6,120 l-7,-1.5 l0,3 z"/>
  <path d="M183.6,215 l7,-1.5 l0,3 z"/><path d="M332.8,215 l-7,-1.5 l0,3 z"/>
  <path d="M355.4,53.1 l-1.5,7 l3,0 z"/><path d="M355.4,162.7 l-1.5,-7 l3,0 z"/>
  <path d="M376.2,53.1 l-1.5,7 l3,0 z"/><path d="M376.2,193 l-1.5,-7 l3,0 z"/>
  <path d="M483,32.9 l7,-1.5 l0,3 z"/><path d="M511.3,32.9 l-7,-1.5 l0,3 z"/>
  <path d="M243.6,276.2 l7,-1.5 l0,3 z"/><path d="M272,276.2 l-7,-1.5 l0,3 z"/>
  <path d="M404.9,291.1 l-1.5,7 l3,0 z"/><path d="M404.9,333.4 l-1.5,-7 l3,0 z"/>
</g>


<g class="t" font-size="11.6" font-weight="bold" fill="#000" stroke="#000" stroke-width="0.15">
  <text x="73.3" y="210.9" text-anchor="middle" textLength="13.8" lengthAdjust="spacingAndGlyphs">382</text>
  <text transform="translate(130,116.5) rotate(-90)" text-anchor="middle" textLength="13.8" lengthAdjust="spacingAndGlyphs">508</text>
  <text transform="translate(233,97.6) rotate(-90)" text-anchor="middle" textLength="13.8" lengthAdjust="spacingAndGlyphs">269</text>
  <text x="258.3" y="117" text-anchor="middle" textLength="13.8" lengthAdjust="spacingAndGlyphs">341</text>
  <text x="258.5" y="211.4" text-anchor="middle" textLength="13.8" lengthAdjust="spacingAndGlyphs">666</text>
  <text transform="translate(351.8,113) rotate(-90)" text-anchor="middle" textLength="13.8" lengthAdjust="spacingAndGlyphs">491</text>
  <text transform="translate(373.2,113) rotate(-90)" text-anchor="middle" textLength="13.8" lengthAdjust="spacingAndGlyphs">626</text>
  <text transform="translate(401.7,312.6) rotate(-90)" text-anchor="middle" textLength="13.5" lengthAdjust="spacingAndGlyphs">191</text>
  <text x="449.5" y="28" textLength="21" lengthAdjust="spacingAndGlyphs">&#216;126</text>
  <text x="208.5" y="271" textLength="21" lengthAdjust="spacingAndGlyphs">&#216;126</text>
</g>
<g class="t" fill="#000">
  <text x="28" y="261.1" font-size="11" stroke="#000" stroke-width="0.3" textLength="87" lengthAdjust="spacingAndGlyphs">Piec wolnostojący</text>
  <text x="36.9" y="277.6" font-size="15.4" font-weight="bold" stroke="#000" stroke-width="0.3" textLength="61.6" lengthAdjust="spacingAndGlyphs">Koza K8</text>
  <text x="49.8" y="291.4" font-size="11.2" font-weight="bold" stroke="#000" stroke-width="0.4" textLength="27.5" lengthAdjust="spacingAndGlyphs">7 KW</text>
  <text x="29" y="359.2" font-size="11" stroke="#000" stroke-width="0.2" textLength="60.5" lengthAdjust="spacingAndGlyphs">Oznaczenie:</text>
  <text x="80" y="371.2" font-size="10.5" font-weight="bold" stroke="#000" stroke-width="0.4" textLength="54" lengthAdjust="spacingAndGlyphs">KOZA / K8</text>
</g>

</svg>
</body></html>
